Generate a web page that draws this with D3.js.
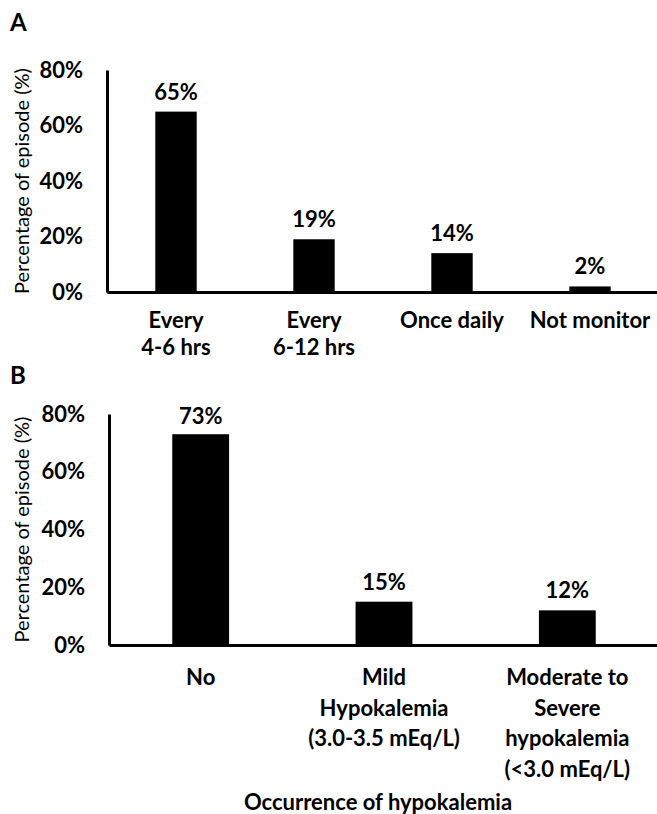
<!DOCTYPE html>
<html>
<head>
<meta charset="utf-8">
<script src="https://cdn.jsdelivr.net/npm/d3@7"></script>
<style>
  body { margin: 0; background: white; }
  text { font-family: Lato, "Open Sans", sans-serif; fill: black; }
</style>
</head>
<body>
<div id="chart"></div>
<script>
// panel A: frequency of potassium monitoring
const freqLabels = [["Every", "4-6 hrs"], ["Every", "6-12 hrs"], ["Once daily"], ["Not monitor"]];
const freqValues = [65, 19, 14, 2];

// panel B: occurrence of hypokalemia
const hypoLabels = [["No"], ["Mild", "Hypokalemia", "(3.0-3.5 mEq/L)"], ["Moderate to", "Severe", "hypokalemia", "(<3.0 mEq/L)"]];
const hypoValues = [73, 15, 12];

const yTicks = [0, 20, 40, 60, 80];

const width = 657, height = 814;
const fs = 22; // main label size

const svg = d3.select("#chart").append("svg")
    .attr("width", width)
    .attr("height", height);

function panel(opts) {
    const cats = opts.labels.map((d, i) => "c" + i);

    const x = d3.scaleBand()
        .domain(cats)
        .range([opts.left, opts.right])
        .paddingInner(opts.pad)
        .paddingOuter(opts.pad / 2);

    const y = d3.scaleLinear()
        .domain([0, 80])
        .range([opts.bottom, opts.top]);

    const g = svg.append("g");

    // bars
    g.selectAll("rect.bar")
        .data(opts.values)
        .enter()
        .append("rect")
        .attr("class", "bar")
        .attr("x", (d, i) => x(cats[i]))
        .attr("width", x.bandwidth())
        .attr("y", d => y(d))
        .attr("height", d => y(0) - y(d))
        .attr("fill", "black");

    // value labels
    g.selectAll("text.val")
        .data(opts.values)
        .enter()
        .append("text")
        .attr("class", "val")
        .attr("x", (d, i) => x(cats[i]) + x.bandwidth() / 2)
        .attr("y", d => Math.max(y(d) - 12, opts.top + 10))
        .attr("text-anchor", "middle")
        .attr("font-size", fs)
        .attr("font-weight", "bold")
        .text(d => d + "%");

    // y axis
    const yAxis = g.append("g")
        .attr("transform", `translate(${opts.left},0)`)
        .call(d3.axisLeft(y).tickValues(yTicks).tickSize(0).tickPadding(24)
            .tickFormat(d => d + "%"));
    yAxis.select(".domain").attr("stroke-width", 3).attr("stroke", "black");
    yAxis.selectAll("text")
        .attr("font-size", fs)
        .attr("font-weight", "bold")
        .attr("font-family", "Lato, sans-serif");

    // x axis
    const xAxis = g.append("g")
        .attr("transform", `translate(0,${opts.bottom})`)
        .call(d3.axisBottom(x).tickSize(0).tickSizeOuter(0).tickFormat(""));
    xAxis.select(".domain").attr("stroke-width", 3).attr("stroke", "black");
    xAxis.selectAll(".tick text").remove();

    // category labels, several lines each
    opts.labels.forEach((lines, i) => {
        const t = g.append("text")
            .attr("x", x(cats[i]) + x.bandwidth() / 2)
            .attr("y", opts.bottom + opts.labelGap)
            .attr("text-anchor", "middle")
            .attr("font-size", fs)
            .attr("font-weight", "bold");
        lines.forEach((s, k) => {
            t.append("tspan")
                .attr("x", x(cats[i]) + x.bandwidth() / 2)
                .attr("dy", k === 0 ? 0 : opts.lineH)
                .text(s);
        });
    });

    // y title
    g.append("text")
        .attr("transform", `translate(${opts.titleX},${(opts.top + opts.bottom) / 2}) rotate(-90)`)
        .attr("text-anchor", "middle")
        .attr("font-size", 20)
        .text("Percentage of episode (%)");

    // panel letter
    g.append("text")
        .attr("x", 10)
        .attr("y", opts.letterY)
        .attr("font-size", 24)
        .attr("font-weight", "bold")
        .text(opts.letter);
}

panel({
    letter: "A", letterY: 31,
    labels: freqLabels, values: freqValues,
    left: 107, right: 659, top: 70, bottom: 292,
    pad: 0.7, labelGap: 36, lineH: 27, titleX: 29
});

panel({
    letter: "B", letterY: 384,
    labels: hypoLabels, values: hypoValues,
    left: 109, right: 659, top: 414, bottom: 645,
    pad: 0.69, labelGap: 40, lineH: 30.5, titleX: 29
});

svg.append("text")
    .attr("x", 378)
    .attr("y", 810)
    .attr("text-anchor", "middle")
    .attr("font-size", fs)
    .attr("font-weight", "bold")
    .text("Occurrence of hypokalemia");
</script>
</body>
</html>
